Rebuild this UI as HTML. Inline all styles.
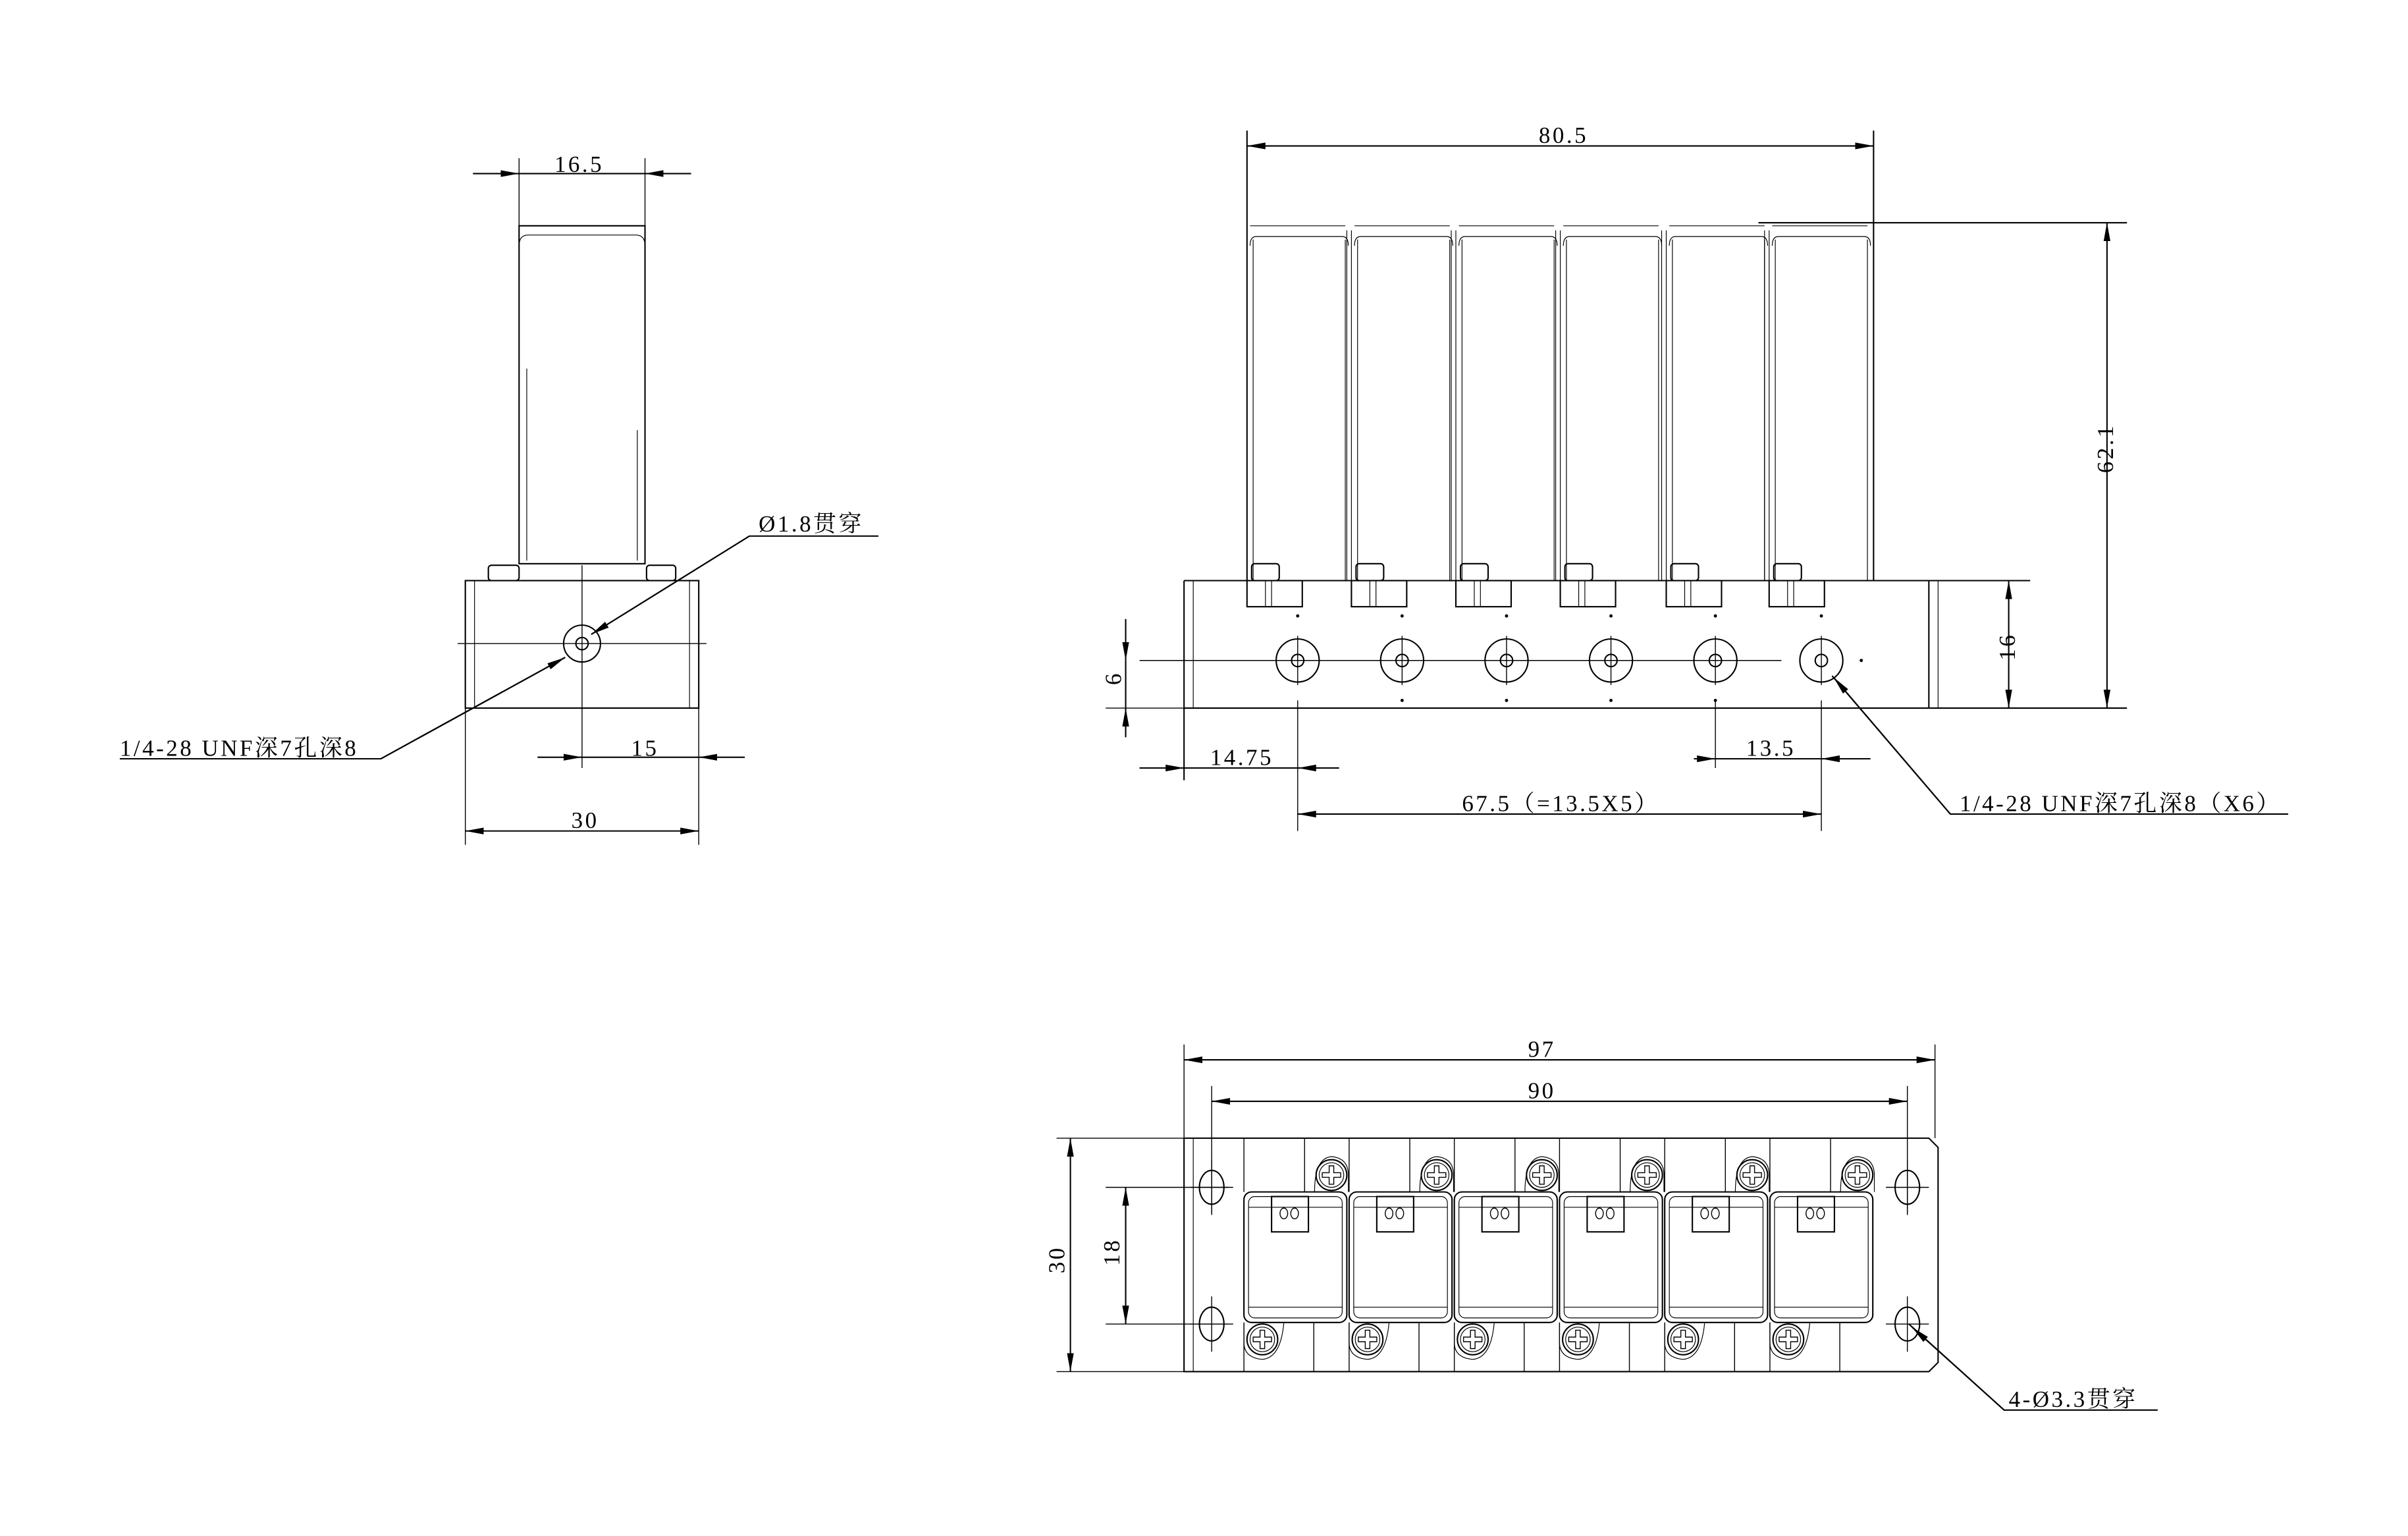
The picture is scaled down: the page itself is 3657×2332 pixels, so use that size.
<!DOCTYPE html>
<html><head><meta charset="utf-8">
<style>
html,body{margin:0;padding:0;background:#fff;width:3657px;height:2332px;overflow:hidden}
svg{display:block}
text{font-family:"Liberation Serif","Noto Serif CJK SC","Noto Sans CJK SC",serif;font-size:15px;fill:#000;letter-spacing:1.5px}
</style></head><body>
<svg id="s" width="3657" height="2332" viewBox="0 0 1568 1000" preserveAspectRatio="none" xmlns="http://www.w3.org/2000/svg">
<defs>
<marker id="a" viewBox="0 0 12 6" refX="12" refY="3" markerWidth="12" markerHeight="6" markerUnits="userSpaceOnUse" orient="auto-start-reverse">
<path d="M0,0.8 L12,3 L0,5.2 z" fill="#000"/></marker>
</defs>
<g id="g" fill="none" stroke="#000" stroke-width="0.9">
<!-- LEFT VIEW -->
<rect x="338" y="147" width="82" height="220"/>
<path d="M338,160 Q338,153 344,153 L414,153 Q420,153 420,160" stroke-width="0.5"/>
<line x1="343" y1="240" x2="343" y2="365" stroke-width="0.5"/>
<line x1="415" y1="280" x2="415" y2="365" stroke-width="0.5"/>
<rect x="318" y="368" width="20" height="10" rx="2"/>
<rect x="421" y="368" width="19" height="10" rx="2"/>
<rect x="303" y="378" width="152" height="83"/>
<line x1="309" y1="378" x2="309" y2="461" stroke-width="0.5"/>
<line x1="449" y1="378" x2="449" y2="461" stroke-width="0.5"/>
<circle cx="379" cy="419" r="12"/>
<circle cx="379" cy="419" r="4"/>
<line x1="379" y1="368" x2="379" y2="500" stroke-width="0.6"/>
<line x1="298" y1="419" x2="460" y2="419" stroke-width="0.6"/>
<!-- dims left -->
<line x1="338" y1="103" x2="338" y2="147" stroke-width="0.6"/>
<line x1="420" y1="103" x2="420" y2="147" stroke-width="0.6"/>
<line x1="308" y1="113" x2="338" y2="113" marker-end="url(#a)"/>
<line x1="338" y1="113" x2="420" y2="113"/>
<line x1="450" y1="113" x2="420" y2="113" marker-end="url(#a)"/>
<line x1="350" y1="493" x2="379" y2="493" marker-end="url(#a)"/>
<line x1="379" y1="493" x2="455" y2="493"/>
<line x1="485" y1="493" x2="455" y2="493" marker-end="url(#a)"/>
<line x1="303" y1="461" x2="303" y2="550" stroke-width="0.6"/>
<line x1="455" y1="461" x2="455" y2="550" stroke-width="0.6"/>
<line x1="303" y1="541" x2="455" y2="541" marker-start="url(#a)" marker-end="url(#a)"/>
<polyline points="572,349 488,349 385,413" />
<line x1="488" y1="349" x2="385" y2="413" marker-end="url(#a)"/>
<polyline points="78,494 248,494 368,428"/>
<line x1="248" y1="494" x2="368" y2="428" marker-end="url(#a)"/>

<!-- FRONT VIEW -->
<line x1="812" y1="85" x2="812" y2="378" />
<line x1="1220" y1="85" x2="1220" y2="378" />
<line x1="812" y1="95" x2="1220" y2="95" marker-start="url(#a)" marker-end="url(#a)"/>
<line x1="812" y1="378" x2="1220" y2="378"/>
<line x1="1145" y1="145" x2="1385" y2="145"/>
<line x1="1256" y1="461" x2="1385" y2="461"/>
<line x1="1372" y1="145" x2="1372" y2="461" marker-start="url(#a)" marker-end="url(#a)"/>
<line x1="1256" y1="378" x2="1322" y2="378"/>
<line x1="1308" y1="378" x2="1308" y2="461" marker-start="url(#a)" marker-end="url(#a)"/>
<line x1="771" y1="378" x2="771" y2="508"/>
<line x1="777" y1="378" x2="777" y2="461" stroke-width="0.5"/>
<line x1="771" y1="461" x2="1256" y2="461"/>
<line x1="1256" y1="378" x2="1256" y2="461"/>
<line x1="1262" y1="378" x2="1262" y2="461" stroke-width="0.5"/>
<line x1="742" y1="430" x2="1160" y2="430" stroke-width="0.6"/>
<line x1="720" y1="461" x2="771" y2="461" stroke-width="0.6"/>
<line x1="733" y1="403" x2="733" y2="430" marker-end="url(#a)"/>
<line x1="733" y1="430" x2="733" y2="461"/>
<line x1="733" y1="480" x2="733" y2="461" marker-end="url(#a)"/>
<line x1="742" y1="500" x2="771" y2="500" marker-end="url(#a)"/>
<line x1="771" y1="500" x2="845" y2="500"/>
<line x1="872" y1="500" x2="845" y2="500" marker-end="url(#a)"/>
<line x1="1103" y1="494" x2="1117" y2="494" marker-end="url(#a)"/>
<line x1="1117" y1="494" x2="1186" y2="494"/>
<line x1="1218" y1="494" x2="1186" y2="494" marker-end="url(#a)"/>
<line x1="845" y1="530" x2="1186" y2="530" marker-start="url(#a)" marker-end="url(#a)"/>
<line x1="845" y1="456" x2="845" y2="541" stroke-width="0.6"/>
<line x1="1186" y1="456" x2="1186" y2="541" stroke-width="0.6"/>
<line x1="1117" y1="456" x2="1117" y2="500" stroke-width="0.6"/>
<polyline points="1490,530 1270,530 1193,440"/>
<line x1="1270" y1="530" x2="1194" y2="441" marker-end="url(#a)"/>

<!-- BOTTOM VIEW -->
<path d="M771,741 L1256,741 L1262,747 L1262,887 L1256,893 L771,893 Z"/>
<line x1="777" y1="741" x2="777" y2="893" stroke-width="0.5"/>
<line x1="771" y1="680" x2="771" y2="741" stroke-width="0.6"/>
<line x1="1260" y1="680" x2="1260" y2="741" stroke-width="0.6"/>
<line x1="771" y1="690" x2="1260" y2="690" marker-start="url(#a)" marker-end="url(#a)"/>
<line x1="789" y1="707" x2="789" y2="790" stroke-width="0.6"/>
<line x1="1242" y1="707" x2="1242" y2="790" stroke-width="0.6"/>
<line x1="789" y1="717" x2="1242" y2="717" marker-start="url(#a)" marker-end="url(#a)"/>
<line x1="688" y1="741" x2="771" y2="741" stroke-width="0.6"/>
<line x1="688" y1="893" x2="771" y2="893" stroke-width="0.6"/>
<line x1="697" y1="741" x2="697" y2="893" marker-start="url(#a)" marker-end="url(#a)"/>
<line x1="720" y1="773" x2="800" y2="773" stroke-width="0.6"/>
<line x1="720" y1="862" x2="800" y2="862" stroke-width="0.6"/>
<line x1="733" y1="773" x2="733" y2="862" marker-start="url(#a)" marker-end="url(#a)"/>
<polyline points="1405,918 1305,918 1243,862"/>
<line x1="1305" y1="918" x2="1245" y2="864" marker-end="url(#a)"/>
</g>
<g font-size="15">
<text x="361" y="112">16.5</text>
<text x="494" y="346">Ø1.8贯穿</text>
<text x="78" y="492">1/4-28 UNF深7孔深8</text>
<text x="411" y="492">15</text>
<text x="372" y="539">30</text>
<text x="1002" y="93">80.5</text>
<text x="788" y="498">14.75</text>
<text x="1137" y="492">13.5</text>
<text x="952" y="528">67.5（=13.5X5）</text>
<text x="1276" y="528">1/4-28 UNF深7孔深8（X6）</text>
<text x="730" y="446" transform="rotate(-90 730 446)">6</text>
<text x="1312" y="430" transform="rotate(-90 1312 430)">16</text>
<text x="1376" y="308" transform="rotate(-90 1376 308)">62.1</text>
<text x="995" y="688">97</text>
<text x="995" y="715">90</text>
<text x="693" y="829" transform="rotate(-90 693 829)">30</text>
<text x="729" y="824" transform="rotate(-90 729 824)">18</text>
<text x="1308" y="916">4-Ø3.3贯穿</text>
</g>
</svg>
<script>
var NS="http://www.w3.org/2000/svg",g=document.getElementById("g");
function el(t,a){var e=document.createElementNS(NS,t);for(var k in a)e.setAttribute(k,a[k]);g.appendChild(e);return e;}
function L(x1,y1,x2,y2,w){el("line",{x1:x1,y1:y1,x2:x2,y2:y2,"stroke-width":w||0.9});}
var mx=[812,880,948,1016,1085,1152];
mx.forEach(function(x,i){
  var w=66;
  L(x+2,147,x+w-2,147,0.5);
  el("path",{d:"M"+(x+2)+",160 Q"+(x+2)+",154 "+(x+6)+",154 L"+(x+w-4)+",154 Q"+(x+w)+",154 "+(x+w)+",160","stroke-width":0.5});
  L(x+4,156,x+4,378,0.5); L(x+w-2,156,x+w-2,378,0.5);
  if(i>0){L(x-3,150,x-3,378,0.5);L(x,150,x,378,0.5);}
  el("rect",{x:x+3,y:367,width:18,height:11,rx:2});
  var cx=[845,913,981,1049,1117,1186][i];
  el("rect",{x:x,y:378,width:36,height:17});
  L(x+12,378,x+12,395,0.5);L(x+16,378,x+16,395,0.5);
  el("circle",{cx:cx,cy:430,r:14});
  el("circle",{cx:cx,cy:430,r:4});
  L(cx,414,cx,446,0.6);
  el("circle",{cx:cx,cy:401,r:0.6,fill:"#000"});
  if(i>0&&i<5)el("circle",{cx:cx,cy:456,r:0.6,fill:"#000"});
});
el("circle",{cx:1212,cy:430,r:0.6,fill:"#000"});
var segs=[[771,812],[848,880],[916,948],[984,1016],[1052,1085],[1120,1152],[1188,1256]];
segs.forEach(function(s){L(s[0],378,s[1],378);});
[[789,773],[1242,773],[789,862],[1242,862]].forEach(function(p){
  el("ellipse",{cx:p[0],cy:p[1],rx:8,ry:11});
  L(p[0]-14,p[1],p[0]+14,p[1],0.6);L(p[0],p[1]-18,p[0],p[1]+18,0.6);
});
function screw(x,y){
  el("circle",{cx:x,cy:y,r:10});el("circle",{cx:x,cy:y,r:8,"stroke-width":0.5});
  el("path",{d:"M"+(x-1.5)+","+(y-6)+" h3 v4.5 h4.5 v3 h-4.5 v4.5 h-3 v-4.5 h-4.5 v-3 h4.5 z","stroke-width":0.6});
}
for(var i=0;i<6;i++){
  var x=810+i*68.5,w=67;
  el("rect",{x:x,y:776,width:w,height:85,rx:5});
  el("rect",{x:x+3,y:779,width:w-6,height:79,rx:4,"stroke-width":0.5});
  L(x+3,786,x+w-3,786,0.5);L(x+3,851,x+w-3,851,0.5);
  el("rect",{x:x+18,y:779,width:24,height:23});
  el("ellipse",{cx:x+26,cy:790,rx:2.5,ry:3.5,"stroke-width":0.6});
  el("ellipse",{cx:x+33,cy:790,rx:2.5,ry:3.5,"stroke-width":0.6});
  L(x,741,x,776,0.6);L(x+w/2+6,741,x+w/2+6,776,0.6);
  L(x+w/2+12,861,x+w/2+12,893,0.6);L(x,861,x,893,0.6);
  screw(x+57,765);screw(x+12,872);
  el("path",{d:"M"+(x+46)+",776 Q"+(x+46)+",754 "+(x+57)+",753 Q"+(x+68)+",754 "+(x+68)+",765 L"+(x+68)+",776","stroke-width":0.5});
  el("path",{d:"M"+x+",861 L"+x+",874 Q"+x+",884 "+(x+12)+",885 Q"+(x+24)+",884 "+(x+26)+",861","stroke-width":0.5});
}
</script>
</body></html>
